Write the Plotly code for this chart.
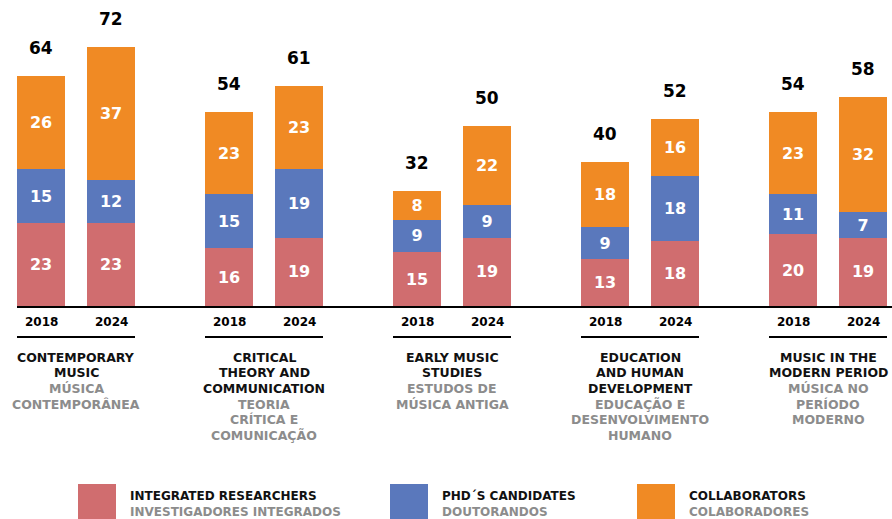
import plotly.graph_objects as go

groups_en = [["CONTEMPORARY", "MUSIC"], ["CRITICAL", "THEORY AND", "COMMUNICATION"], ["EARLY MUSIC", "STUDIES"],
             ["EDUCATION", "AND HUMAN", "DEVELOPMENT"], ["MUSIC IN THE", "MODERN PERIOD"]]
groups_pt = [["MÚSICA", "CONTEMPORÂNEA"], ["TEORIA", "CRÍTICA E", "COMUNICAÇÃO"], ["ESTUDOS DE", "MÚSICA ANTIGA"],
             ["EDUCAÇÃO E", "DESENVOLVIMENTO", "HUMANO"], ["MÚSICA NO", "PERÍODO", "MODERNO"]]
years = ["2018", "2024"]

# values per group: [2018, 2024]
researchers = [[23, 23], [16, 19], [15, 19], [13, 18], [20, 19]]
phd = [[15, 12], [15, 19], [9, 9], [9, 18], [11, 7]]
collaborators = [[26, 37], [23, 23], [8, 22], [18, 16], [23, 32]]

series = [
    ("INTEGRATED RESEARCHERS", "INVESTIGADORES INTEGRADOS", researchers, "#D06D6F"),
    ("PHD´S CANDIDATES", "DOUTORANDOS", phd, "#5A78BC"),
    ("COLLABORATORS", "COLABORADORES", collaborators, "#F08A24"),
]

FONT = "DejaVu Sans"
DARK, GREY = "#111111", "#8C8C8C"
W, H = 892, 519
PLOT_TOP, BASE = 0, 306
GROUP_STEP, BAR_STEP, FIRST_CENTER, BAR_W = 188, 70, 76, 48
YMAX = 85
LINE_H = 15.7

def py2paper(py):
    return (BASE - py) / (BASE - PLOT_TOP)

xs = []
for g in range(len(groups_en)):
    gc = FIRST_CENTER + GROUP_STEP * g
    for j in range(len(years)):
        xs.append(gc + (j - 0.5) * BAR_STEP)

fig = go.Figure()
for name, pt, vals, col in series:
    flat = [v for grp in vals for v in grp]
    fig.add_trace(go.Bar(
        x=xs, y=flat, width=BAR_W, marker=dict(color=col, line=dict(width=0)),
        name=name, text=flat, textposition="inside", insidetextanchor="middle",
        textangle=0, constraintext="none",
        textfont=dict(family=FONT, size=16, color="white", weight="bold"),
        hoverinfo="skip", showlegend=False,
    ))

annotations = []
shapes = []
totals = [researchers[g][j] + phd[g][j] + collaborators[g][j] for g in range(5) for j in range(2)]
for i, x in enumerate(xs):
    annotations.append(dict(x=x, y=totals[i], xref="x", yref="y", text=f"<b>{totals[i]}</b>", showarrow=False,
                            yanchor="middle", yshift=28,
                            font=dict(family=FONT, size=17, color="black")))
    annotations.append(dict(x=x, y=py2paper(322), xref="x", yref="paper", text=f"<b>{years[i % 2]}</b>",
                            showarrow=False, yanchor="middle",
                            font=dict(family=FONT, size=12, color="black")))

for g in range(len(groups_en)):
    gc = FIRST_CENTER + GROUP_STEP * g
    x0 = gc - BAR_STEP / 2 - BAR_W / 2
    x1 = gc + BAR_STEP / 2 + BAR_W / 2
    shapes.append(dict(type="line", xref="x", yref="paper", x0=x0, x1=x1, y0=py2paper(337), y1=py2paper(337),
                       line=dict(color="black", width=2)))
    lines = [(t, DARK) for t in groups_en[g]] + [(t, GREY) for t in groups_pt[g]]
    for k, (t, c) in enumerate(lines):
        annotations.append(dict(x=gc, y=py2paper(357 + LINE_H * k), xref="x", yref="paper", text=f"<b>{t}</b>",
                                showarrow=False, yanchor="middle", xanchor="center",
                                font=dict(family=FONT, size=12.5, color=c)))

# legend
leg_x = [78, 390, 637]
for k, (name, pt, vals, col) in enumerate(series):
    shapes.append(dict(type="rect", xref="x", yref="paper", x0=leg_x[k], x1=leg_x[k] + 38,
                       y0=py2paper(484), y1=py2paper(522), fillcolor=col, line=dict(width=0)))
    for m, (t, c) in enumerate([(name, DARK), (pt, GREY)]):
        annotations.append(dict(x=leg_x[k] + 50, y=py2paper(496 + 16 * m), xref="x", yref="paper",
                                text=f"<b>{t}</b>", showarrow=False, xanchor="left", yanchor="middle",
                                font=dict(family=FONT, size=12, color=c)))

fig.update_layout(
    width=W, height=H, barmode="stack", plot_bgcolor="white", paper_bgcolor="white",
    margin=dict(l=17, r=0, t=PLOT_TOP, b=H - BASE),
    xaxis=dict(range=[17, 892], showgrid=False, zeroline=False, showticklabels=False,
               showline=True, linecolor="black", linewidth=2, fixedrange=True),
    yaxis=dict(range=[0, YMAX], showgrid=False, zeroline=False, showticklabels=False, showline=False,
               fixedrange=True),
    annotations=annotations, shapes=shapes, showlegend=False,
    font=dict(family=FONT),
)
fig.update_traces(cliponaxis=False)
fig.write_html("out.html", config={"displayModeBar": False},
               post_script="document.body.style.margin='0';document.body.style.overflow='hidden';")
